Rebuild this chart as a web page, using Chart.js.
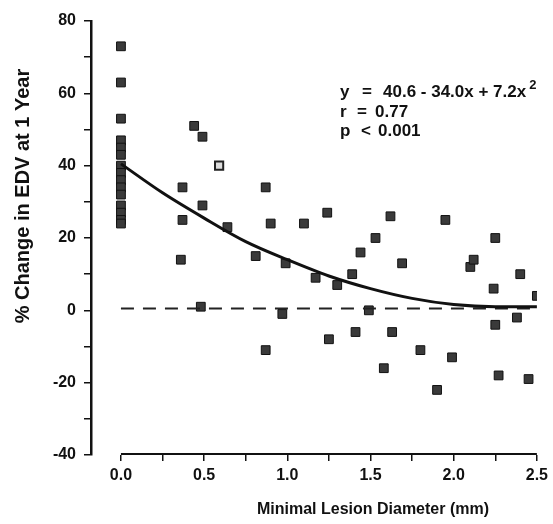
<!DOCTYPE html>
<html>
<head>
<meta charset="utf-8">
<script src="https://cdn.jsdelivr.net/npm/chart.js@4"></script>
<style>
  body { margin: 0; background: #fff; }
  #wrap { width: 553px; height: 524px; }
</style>
</head>
<body>
<div id="wrap"><canvas id="myChart" width="553" height="524"></canvas></div>
<script>
// patients: minimal lesion diameter (mm) vs % change in EDV at 1 year
var lesionMm = [0, 0, 0, 0, 0, 0, 0, 0, 0, 0, 0, 0, 0, 0, 0,
    0.36, 0.37, 0.37, 0.44, 0.49, 0.49, 0.48, 0.64, 0.81, 0.87, 0.90, 0.87, 0.97, 0.99,
    1.10, 1.17, 1.24, 1.25, 1.30, 1.39, 1.41, 1.44, 1.49, 1.53, 1.58, 1.62, 1.63, 1.69,
    1.80, 1.90, 1.95, 1.99, 2.10, 2.12, 2.24, 2.25, 2.25, 2.27, 2.38, 2.40, 2.45, 2.50]
var edvChange = [73, 63, 53, 47, 45, 43, 40, 38, 36, 34, 32, 29, 27, 25, 24,
    14, 25, 34, 51, 48, 29, 1, 23, 15, 34, 24, -11, -1, 13,
    24, 9, 27, -8, 7, 10, -6, 16, 0, 20, -16, 26, -6, 13,
    -11, -22, 25, -13, 12, 14, 6, 20, -4, -18, -2, 10, -19, 4]
// the one open square
var openMm = [0.59]
var openEdv = [40]

// fitted curve as drawn (y = 40.6 - 34.0x + 7.2x^2)
var fitMm = [0, 0.25, 0.5, 0.75, 1.0, 1.25, 1.5, 1.75, 2.0, 2.25, 2.5]
var fitEdv = [40.5, 32.5, 25.5, 19, 14, 9.5, 6, 3.3, 1.6, 1, 1]

// dashed reference line
var refMm = [0, 2.5]
var refEdv = [0.5, 0.5]

var yTicks = [-40, -30, -20, -10, 0, 10, 20, 30, 40, 50, 60, 70, 80]
var xTicks = [0, 0.25, 0.5, 0.75, 1.0, 1.25, 1.5, 1.75, 2.0, 2.25, 2.5]

function pts(xs, ys){
    return xs.map(function(x, i){ return {x: x, y: ys[i]} })
}

var font = "'Liberation Sans', Arial, sans-serif"

var textPlugin = {
    id: 'texts',
    afterDraw: function(chart){
        var ctx = chart.ctx
        var xs = chart.scales.x
        var area = chart.chartArea
        ctx.save()
        // x axis line only over the data range
        ctx.strokeStyle = '#111'
        ctx.lineWidth = 1.8
        ctx.beginPath()
        ctx.moveTo(xs.getPixelForValue(0), area.bottom - 1)
        ctx.lineTo(xs.getPixelForValue(2.5), area.bottom - 1)
        ctx.stroke()

        ctx.fillStyle = '#111'
        ctx.font = 'bold 16px ' + font
        ctx.textAlign = 'center'
        ctx.textBaseline = 'middle'
        ctx.fillText('Minimal Lesion Diameter (mm)', 373, 510)

        ctx.save()
        ctx.translate(23, 196)
        ctx.rotate(-Math.PI / 2)
        ctx.font = 'bold 20px ' + font
        ctx.fillText('% Change in EDV at 1 Year', 0, 0)
        ctx.restore()

        // regression text
        ctx.textAlign = 'left'
        ctx.textBaseline = 'alphabetic'
        ctx.font = 'bold 17px ' + font
        ctx.fillText('y', 340, 97)
        ctx.fillText('=', 362, 97)
        var eq = '40.6 - 34.0x + 7.2x'
        ctx.fillText(eq, 383, 97)
        var w = ctx.measureText(eq).width
        ctx.font = 'bold 13px ' + font
        ctx.fillText('2', 383 + w + 3, 89)
        ctx.font = 'bold 17px ' + font
        ctx.fillText('r', 340, 117)
        ctx.fillText('=', 357, 117)
        ctx.fillText('0.77', 375, 117)
        ctx.fillText('p', 340, 136)
        ctx.fillText('<', 361, 136)
        ctx.fillText('0.001', 378, 136)
        ctx.restore()
    }
}

var ctx = document.getElementById('myChart').getContext('2d')
var chart = new Chart(ctx, {
    type: 'scatter',
    data: {
        datasets: [
            {
                label: 'fit',
                type: 'line',
                data: pts(fitMm, fitEdv),
                borderColor: '#111',
                borderWidth: 3,
                pointRadius: 0,
                cubicInterpolationMode: 'monotone',
                fill: false
            },
            {
                label: 'ref',
                type: 'line',
                data: pts(refMm, refEdv),
                borderColor: '#222',
                borderWidth: 2,
                borderDash: [13, 9],
                pointRadius: 0,
                fill: false
            },
            {
                label: 'patients',
                data: pts(lesionMm, edvChange),
                pointStyle: 'rect',
                pointRadius: 6.2,
                backgroundColor: '#3a3a3a',
                borderColor: '#111',
                borderWidth: 1
            },
            {
                label: 'open',
                data: pts(openMm, openEdv),
                pointStyle: 'rect',
                pointRadius: 5.8,
                backgroundColor: '#ddd',
                borderColor: '#222',
                borderWidth: 2
            }
        ]
    },
    options: {
        responsive: false,
        animation: false,
        layout: { padding: { left: 0, top: 21, right: 13, bottom: 0 } },
        plugins: {
            legend: { display: false },
            tooltip: { enabled: false }
        },
        scales: {
            x: {
                type: 'linear',
                min: -0.18,
                max: 2.5,
                afterBuildTicks: function(s){ s.ticks = xTicks.map(function(v){ return {value: v} }) },
                afterFit: function(s){ s.height = 69 },
                border: { display: false },
                grid: { drawOnChartArea: false, drawTicks: true, tickLength: 6, color: '#111', lineWidth: 1.5 },
                ticks: {
                    padding: 5,
                    color: '#111',
                    font: { family: font, size: 16, weight: 'bold' },
                    maxRotation: 0,
                    autoSkip: false,
                    callback: function(v){ return Math.abs(v * 2 - Math.round(v * 2)) < 1e-6 ? v.toFixed(1) : '' }
                }
            },
            y: {
                type: 'linear',
                min: -40,
                max: 80,
                afterBuildTicks: function(s){ s.ticks = yTicks.map(function(v){ return {value: v} }) },
                afterFit: function(s){ s.width = 91 },
                border: { display: true, color: '#111', width: 2.5 },
                grid: { drawOnChartArea: false, drawTicks: true, tickLength: 7, color: '#111', lineWidth: 1.5 },
                ticks: {
                    padding: 8,
                    color: '#111',
                    font: { family: font, size: 16, weight: 'bold' },
                    autoSkip: false,
                    callback: function(v){ return v % 20 === 0 ? v : '' }
                }
            }
        }
    },
    plugins: [textPlugin]
})
</script>
</body>
</html>
